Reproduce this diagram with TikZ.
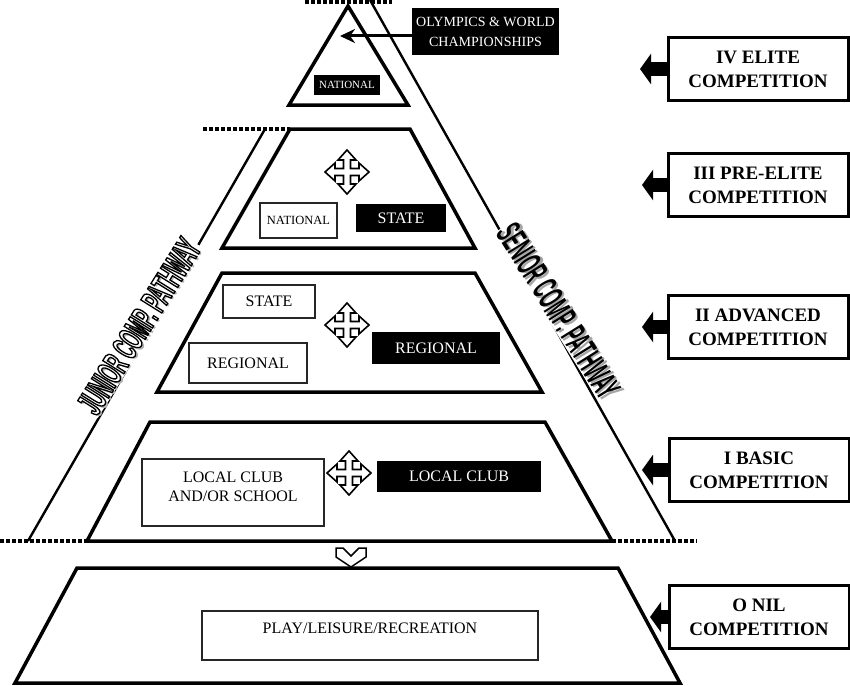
\documentclass[tikz,border=0pt]{standalone}
\usepackage{fontspec}
\setmainfont{Liberation Serif}
\newfontfamily\pathwayfont[FakeStretch=0.45]{Liberation Sans}
\usepackage{tikz}
\usetikzlibrary{positioning}
\usetikzlibrary{calc}
\usetikzlibrary{arrows.meta}

\newcommand{\boxfont}{\fontsize{16}{19}\selectfont}
\newcommand{\smallboxfont}{\fontsize{12.5}{15}\selectfont}
\newcommand{\stagefont}{\bfseries\fontsize{19}{24}\selectfont}
\newcommand{\outlined}[1]{\special{pdf:literal direct 2 Tr 1.3 w 0 G}#1\special{pdf:literal direct 0 Tr}}

\tikzset{
    level/.style={draw, line width=3.5pt, line join=miter, fill=white},
    rim/.style={line width=2.4pt},
    cutline/.style={line width=4pt, dash pattern=on 3.5pt off 2.5pt},
    whitebox/.style={draw=black!85, line width=1.2pt, fill=white, font=\boxfont, align=center, inner sep=0pt},
    blackbox/.style={fill=black, text=white, font=\boxfont, align=center, inner sep=0pt},
    stagebox/.style={draw, line width=3pt, fill=white, font=\stagefont, align=center,
        minimum width=180pt, minimum height=63pt, inner sep=0pt},
    stagearrow/.style={line width=14pt, -{Triangle[length=11pt,width=30pt]}},
    pathway/.style={font=\pathwayfont\bfseries\fontsize{36}{36}\selectfont, inner sep=1pt},
    moveicon/.pic={
        \draw[line width=1.6pt, fill=white, line join=miter]
            (0,22) -- (9,12) -- (3.5,12) -- (3.5,3.5) -- (12,3.5) -- (12,9) -- (22,0)
            -- (12,-9) -- (12,-3.5) -- (3.5,-3.5) -- (3.5,-12) -- (9,-12) -- (0,-22)
            -- (-9,-12) -- (-3.5,-12) -- (-3.5,-3.5) -- (-12,-3.5) -- (-12,-9) -- (-22,0)
            -- (-12,9) -- (-12,3.5) -- (-3.5,3.5) -- (-3.5,12) -- (-9,12) -- cycle;
    }
}

% hollow letters with a grey shadow
\newcommand{\hollowlabel}[4]{%
    \node[pathway, fill=white, rotate=#3] (#1) at #2 {\phantom{#4}};
    \node[pathway, text=black!30, xshift=2.5pt, yshift=-2pt, rotate=#3] at #2 {#4};
    \node[pathway, text=white, rotate=#3] at #2 {\outlined{#4}};
}
\newcommand{\shadowlabel}[4]{%
    \node[pathway, fill=white, rotate=#3] (#1) at #2 {\phantom{#4}};
    \node[pathway, text=black!35, xshift=2.5pt, yshift=-1.5pt, rotate=#3] at #2 {#4};
    \node[pathway, text=black, rotate=#3] at #2 {#4};
}

\begin{document}
\begin{tikzpicture}[x=1pt, y=-1pt]
    \useasboundingbox (0,0) rectangle (850,685);

    \draw[rim] (265,129) -- (28,541);
    \draw[rim] (370,0) -- (675,541);
    \hollowlabel{junior}{(139,326)}{58}{JUNIOR COMP. PATHWAY}
    \shadowlabel{senior}{(559,311)}{-58}{SENIOR COMP. PATHWAY}

    \draw[level] (348,6) -- (408,105) -- (289,105) -- cycle;
    \draw[level] (290,129) -- (410,129) -- (475,248) -- (222,248) -- cycle;
    \draw[level] (222,273) -- (475,273) -- (542,392) -- (157,392) -- cycle;
    \draw[level] (150,422) -- (545,422) -- (612,541) -- (87,541) -- cycle;
    \draw[level] (77,568) -- (618,568) -- (680,683) -- (15,683) -- cycle;

    \draw[cutline] (305,2) -- (392,2);
    \draw[cutline] (203,129) -- (290,129);
    \draw[cutline] (0,541) -- (87,541);
    \draw[cutline] (612,541) -- (697,541);

    \node[blackbox, font=\fontsize{14}{20}\selectfont, minimum width=147pt, minimum height=47pt]
        (olympics) at (485.5,31.5) {OLYMPICS \& WORLD\\CHAMPIONSHIPS};
    \coordinate (olytip) at (340,36);
    \draw[line width=3pt, -{Stealth[length=15pt,width=14pt]}] (olytip -| olympics.west) -- (olytip);
    \node[blackbox, font=\fontsize{11}{13}\selectfont, minimum width=66pt, minimum height=20pt]
        (natIV) at (347,85) {NATIONAL};

    \pic at (347,172) {moveicon};
    \node[whitebox, font=\smallboxfont, minimum width=77pt, minimum height=35pt] (natIII) at (298.5,220.5) {NATIONAL};
    \node[blackbox, minimum width=90pt, minimum height=28pt] (stateIII) at (401,218) {STATE};

    \pic at (347,325) {moveicon};
    \node[whitebox, minimum width=92pt, minimum height=33pt] (stateII) at (269,301.5) {STATE};
    \node[whitebox, minimum width=118pt, minimum height=40pt] (regII) at (248,363) {REGIONAL};
    \node[blackbox, minimum width=128pt, minimum height=32pt] (regIIb) at (436,348) {REGIONAL};

    \pic at (349,473) {moveicon};
    \node[whitebox, minimum width=182pt, minimum height=67pt] (clubI) at (233,492.5) {LOCAL CLUB\\AND/OR SCHOOL\\[-7pt]};
    \node[blackbox, minimum width=164pt, minimum height=31pt] (clubIb) at (459,476.5) {LOCAL CLUB};

    \draw[line width=1.5pt, fill=white, line join=miter]
        (336,548) -- (343,548) -- (351,556) -- (359,548) -- (366,548)
        -- (366,557) -- (351,567) -- (336,557) -- cycle;
    \node[whitebox, minimum width=336pt, minimum height=49pt, text height=12pt, text depth=16pt]
        (play) at (370,635.5) {PLAY/LEISURE/RECREATION};

    \node[stagebox] (stageIV) at (758,69) {IV ELITE\\COMPETITION};
    \node[stagebox] (stageIII) at (758,185) {III PRE-ELITE\\COMPETITION};
    \node[stagebox] (stageII) at (758,327) {II ADVANCED\\COMPETITION};
    \node[stagebox] (stageI) at (759,470) {I BASIC\\COMPETITION};
    \node[stagebox] (stageO) at (759,617) {O NIL\\COMPETITION};

    \coordinate (tipIV) at (640,69);
    \coordinate (tipIII) at (642,185);
    \coordinate (tipII) at (642,327);
    \coordinate (tipI) at (642,470);
    \coordinate (tipO) at (650,617);
    \draw[stagearrow] (stageIV.west) -- (tipIV);
    \draw[stagearrow] (stageIII.west) -- (tipIII);
    \draw[stagearrow] (stageII.west) -- (tipII);
    \draw[stagearrow] (stageI.west) -- (tipI);
    \draw[stagearrow] (stageO.west) -- (tipO);
\end{tikzpicture}
\end{document}
